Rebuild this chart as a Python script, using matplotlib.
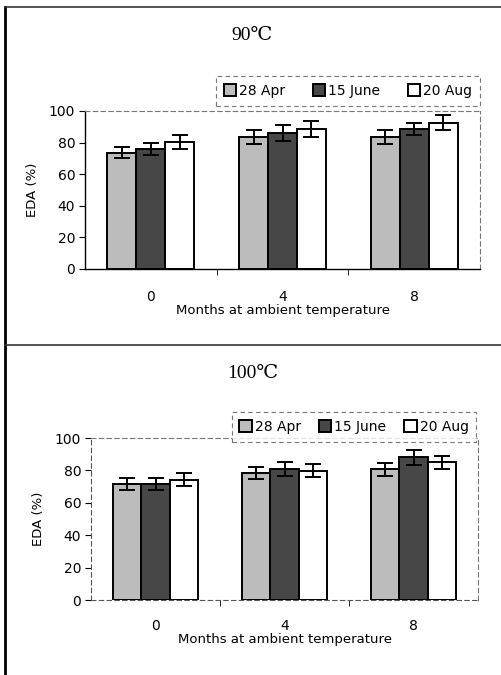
import matplotlib.pyplot as plt
import numpy as np

months = ['0', '4', '8']
series = ['28 Apr', '15 June', '20 Aug']

# 90 C panel
eda_90 = [[73.7, 83.6, 83.6],
          [76.0, 86.3, 88.6],
          [80.2, 88.6, 92.6]]
err_90 = [[3.3, 4.5, 4.5],
          [3.9, 5.0, 3.9],
          [4.5, 4.8, 4.8]]

# 100 C panel
eda_100 = [[71.5, 78.4, 80.8],
           [71.5, 80.8, 88.0],
           [74.2, 79.8, 85.0]]
err_100 = [[3.7, 4.0, 4.0],
           [3.7, 4.3, 4.6],
           [4.1, 3.9, 3.9]]

colors = ['#bcbcbc', '#474747', 'white']
sans = ['DejaVu Sans']
serif = ['Liberation Serif', 'DejaVu Serif']

W, H = 501, 675
fig = plt.figure(figsize=(W / 100, H / 100), dpi=100)


def px_axes(x0, y0, x1, y1):
    return fig.add_axes([x0 / W, 1 - y1 / H, (x1 - x0) / W, (y1 - y0) / H])


def panel(ax, vals, errs, title, title_xy, leg_box, left_solid, tick_pad, colspace):
    x = np.arange(len(months))
    w = 0.22
    handles = []
    for i, name in enumerate(series):
        b = ax.bar(x + (i - 1) * w, vals[i], w, yerr=errs[i], color=colors[i],
                   edgecolor='black', linewidth=1.4, capsize=6,
                   error_kw=dict(elinewidth=1.4, capthick=1.4, ecolor='black'),
                   label=name, zorder=3)
        handles.append(b)
    ax.set_xlim(-0.5, len(months) - 0.5)
    ax.set_ylim(0, 100)
    ax.set_yticks(range(0, 101, 20))
    ax.set_xticks(x)
    ax.set_xticklabels(months)
    ax.set_xticks([0.5, 1.5], minor=True)
    ax.tick_params(axis='x', which='major', length=0, pad=tick_pad, labelsize=10)
    ax.tick_params(axis='x', which='minor', length=4, direction='out')
    ax.tick_params(axis='y', length=4, direction='out', labelsize=10, pad=3)
    for lab in ax.get_xticklabels() + ax.get_yticklabels():
        lab.set_family(sans)
    for s in ['top', 'right']:
        ax.spines[s].set_linestyle((0, (4, 3)))
        ax.spines[s].set_color('#777777')
        ax.spines[s].set_linewidth(0.8)
    if left_solid:
        ax.spines['left'].set_linewidth(1.0)
        ax.spines['bottom'].set_linewidth(1.0)
    else:
        for s in ['left', 'bottom']:
            ax.spines[s].set_linestyle((0, (4, 3)))
            ax.spines[s].set_color('#555555')
            ax.spines[s].set_linewidth(0.8)
    ax.set_ylabel('EDA (%)', family=sans, fontsize=9.5, labelpad=7)
    ax.set_xlabel('Months at ambient temperature', family=sans, fontsize=9.5, labelpad=0)
    fig.text(title_xy[0] / W, 1 - title_xy[1] / H, title, family=serif,
             fontsize=14, ha='center', va='center')
    x0, y0, x1, y1 = leg_box
    leg = fig.legend(handles=handles, labels=series, ncol=3,
                     loc='center', bbox_to_anchor=((x0 + x1) / 2 / W, 1 - (y0 + y1) / 2 / H),
                     prop={'family': sans, 'size': 10}, fancybox=False,
                     handlelength=0.9, handleheight=0.9, handletextpad=0.2,
                     columnspacing=colspace, borderpad=0.55, frameon=True)
    fr = leg.get_frame()
    fr.set_linestyle((0, (4, 3)))
    fr.set_edgecolor('#555555')
    fr.set_linewidth(0.8)


ax1 = px_axes(85, 111, 480, 269)
panel(ax1, eda_90, err_90, '90℃', (252, 35), (211, 73, 485, 109), True, 15, 2.0)

ax2 = px_axes(91, 438, 478, 600)
panel(ax2, eda_100, err_100, '100℃', (253, 373), (228, 410, 480, 444), False, 14, 1.3)

# outer frame lines
fig.add_artist(plt.Line2D([5 / W, 5 / W], [0, 1 - 7 / H], color='black', lw=2))
fig.add_artist(plt.Line2D([5 / W, 1], [1 - 7 / H, 1 - 7 / H], color='#333333', lw=1.2))
fig.add_artist(plt.Line2D([5 / W, 1], [1 - 345 / H, 1 - 345 / H], color='#333333', lw=1.2))

fig.savefig('out.png', dpi=100)
